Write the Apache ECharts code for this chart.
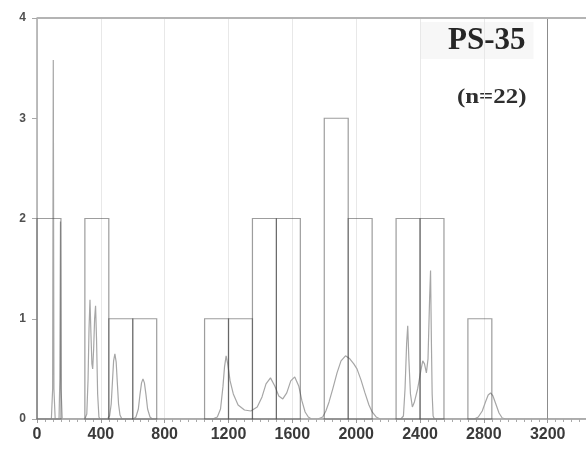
<!DOCTYPE html>
<html>
<head>
<meta charset="utf-8">
<script src="https://cdn.jsdelivr.net/npm/echarts@6/dist/echarts.min.js"></script>
<style>
  html, body { margin: 0; padding: 0; background: #ffffff; }
  #chart { width: 586px; height: 449px; }
</style>
</head>
<body>
<div id="chart"></div>
<script>
// Histogram of detrital zircon ages (Ma), 150 Ma bins
const binWidth = 150;
const binStarts = [0, 300, 450, 600, 1050, 1200, 1350, 1500, 1800, 1950, 2250, 2400, 2700];
const binCounts = [2, 2, 1, 1, 1, 1, 2, 2, 3, 2, 2, 2, 1];

// Probability density curve: [age (Ma), relative density]
const pdpCurve = [
  [0, 0], [90, 0], [98, 0.3], [102, 3.58], [106, 0.3], [114, 0],
  [138, 0], [143, 0.4], [147, 1.97], [151, 0.3], [158, 0],
  [300, 0], [312, 0.05], [320, 0.4], [326, 0.9], [332, 1.19], [338, 0.85], [344, 0.55],
  [349, 0.5], [355, 0.7], [361, 1.0], [367, 1.13], [373, 0.8], [380, 0.25], [388, 0.02], [395, 0],
  [440, 0], [455, 0.03], [465, 0.15], [473, 0.38], [480, 0.58], [488, 0.65], [496, 0.57],
  [503, 0.37], [511, 0.15], [520, 0.04], [532, 0],
  [605, 0], [620, 0.02], [635, 0.1], [645, 0.24], [655, 0.36], [664, 0.40], [673, 0.36],
  [683, 0.24], [693, 0.1], [708, 0.02], [722, 0],
  [1100, 0], [1130, 0.02], [1150, 0.1], [1165, 0.32], [1175, 0.52], [1185, 0.63], [1195, 0.55],
  [1210, 0.38], [1230, 0.25], [1260, 0.14], [1300, 0.09], [1340, 0.08], [1380, 0.12], [1410, 0.22],
  [1435, 0.35], [1463, 0.41], [1490, 0.33], [1515, 0.23], [1540, 0.20], [1565, 0.26], [1590, 0.38],
  [1615, 0.42], [1640, 0.33], [1660, 0.18], [1680, 0.07], [1700, 0.02], [1720, 0],
  [1760, 0], [1790, 0.02], [1810, 0.08], [1830, 0.17], [1855, 0.31], [1880, 0.46], [1905, 0.58],
  [1933, 0.63], [1960, 0.6], [1985, 0.55], [2005, 0.5], [2030, 0.39], [2055, 0.26], [2080, 0.14],
  [2100, 0.07], [2125, 0.02], [2150, 0],
  [2280, 0], [2296, 0.03], [2306, 0.3], [2316, 0.75], [2323, 0.93], [2330, 0.6], [2340, 0.25],
  [2352, 0.12], [2365, 0.17], [2385, 0.3], [2405, 0.48], [2417, 0.58], [2428, 0.55], [2440, 0.46],
  [2450, 0.6], [2460, 1.2], [2466, 1.48], [2471, 0.8], [2476, 0.25], [2482, 0.03], [2490, 0],
  [2740, 0], [2765, 0.02], [2790, 0.08], [2810, 0.17], [2827, 0.24], [2842, 0.26], [2857, 0.23],
  [2875, 0.15], [2895, 0.06], [2915, 0.01], [2940, 0],
  [3440, 0]
];

const sampleName = 'PS-35';
const sampleCount = '(n=22)';

const histData = binStarts.map((s, i) => [s, s + binWidth, binCounts[i]]);

const chart = echarts.init(document.getElementById('chart'), null, { renderer: 'canvas' });

chart.setOption({
  animation: false,
  backgroundColor: '#ffffff',
  grid: { left: 37, right: 0, top: 18, bottom: 30, containLabel: false },
  xAxis: {
    type: 'value',
    min: 0,
    max: 3440,
    interval: 400,
    axisLine: { show: true, lineStyle: { color: '#9a9a9a', width: 1.5 } },
    axisTick: { show: true, length: 4, lineStyle: { color: '#9a9a9a' } },
    minorTick: { show: true, splitNumber: 8, length: 3, lineStyle: { color: '#aaaaaa' } },
    axisLabel: {
      showMaxLabel: false,
      margin: 8,
      color: '#3a3a3a',
      fontFamily: 'Liberation Sans, Arial, sans-serif',
      fontWeight: 'bold',
      fontSize: 16,
      formatter: function (v) { return String(v); }
    },
    splitLine: { show: true, lineStyle: { color: '#e8e8e8', width: 1 } }
  },
  yAxis: {
    type: 'value',
    min: 0,
    max: 4,
    interval: 1,
    axisLine: { show: true, lineStyle: { color: '#a8a8a8', width: 1.5 } },
    axisTick: { show: true, length: 5, lineStyle: { color: '#a8a8a8' } },
    axisLabel: {
      margin: 11,
      color: '#505050',
      fontFamily: 'Liberation Sans, Arial, sans-serif',
      fontWeight: 'bold',
      fontSize: 12
    },
    splitLine: { show: false }
  },
  series: [
    {
      type: 'line',
      data: pdpCurve,
      showSymbol: false,
      smooth: false,
      z: 2,
      lineStyle: { color: '#a6a6a6', width: 1.2 },
      markLine: {
        silent: true,
        symbol: 'none',
        label: { show: false },
        data: [
          { xAxis: 3200, lineStyle: { color: '#8c8c8c', width: 1, type: 'solid' } },
          { yAxis: 4, lineStyle: { color: '#b4b4b4', width: 2, type: 'solid' } }
        ]
      }
    },
    {
      type: 'custom',
      data: histData,
      z: 3,
      renderItem: function (params, api) {
        const topLeft = api.coord([api.value(0), api.value(2)]);
        const bottomRight = api.coord([api.value(1), 0]);
        return {
          type: 'rect',
          shape: {
            x: topLeft[0],
            y: topLeft[1],
            width: bottomRight[0] - topLeft[0],
            height: bottomRight[1] - topLeft[1]
          },
          style: { fill: 'none', stroke: 'rgba(60,60,60,0.5)', lineWidth: 1.2 }
        };
      }
    }
  ],
  graphic: [
    {
      type: 'text',
      left: 420,
      top: 22,
      style: {
        text: sampleName,
        fontFamily: 'Liberation Serif, Times New Roman, serif',
        fontWeight: 'bold',
        fontSize: 31,
        fill: '#262626',
        backgroundColor: '#f7f7f7',
        padding: [3, 8, 3, 28]
      }
    },
    {
      type: 'text',
      x: 457,
      y: 86,
      scaleX: 1.13,
      style: {
        text: sampleCount,
        fontFamily: 'Liberation Serif, Times New Roman, serif',
        fontWeight: 'bold',
        fontSize: 22,
        fill: '#2e2e2e'
      }
    }
  ]
});
</script>
</body>
</html>
